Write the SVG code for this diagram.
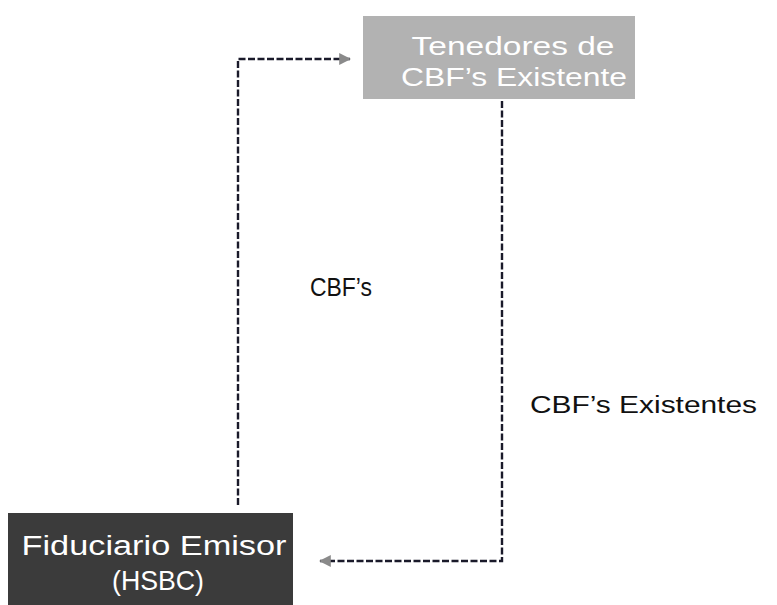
<svg xmlns="http://www.w3.org/2000/svg" width="777" height="605" viewBox="0 0 777 605">
<defs>
<style>
.lbl{font-family:"Liberation Sans",Arial,sans-serif;fill:#111}
.btxt{font-family:"Liberation Sans",Arial,sans-serif;fill:#fff;text-anchor:middle}
.dash{fill:none;stroke:#1a1a2a;stroke-width:2.4;stroke-dasharray:7 2.5}
</style>
<marker id="ah" viewBox="0 0 10 10" refX="9" refY="5" markerWidth="5" markerHeight="5" orient="auto" markerUnits="strokeWidth">
<path d="M0,0 L10,5 L0,10 z" fill="#8a8a8a"/>
</marker>
</defs>
<rect width="777" height="605" fill="#fff"/>
<g id="connectors">
<path class="dash" d="M238,505 L238,59 L350,59" marker-end="url(#ah)"/>
<path class="dash" d="M502,101 L502,561 L320,561" marker-end="url(#ah)"/>
</g>
<g id="tenedores">
<rect x="363" y="16" width="272" height="83" fill="#b2b2b2"/>
<text class="btxt" x="513" y="55" font-size="26" textLength="203" lengthAdjust="spacingAndGlyphs">Tenedores de</text>
<text class="btxt" x="514" y="86" font-size="26" textLength="226" lengthAdjust="spacingAndGlyphs">CBF’s Existente</text>
</g>
<g id="fiduciario">
<rect x="8" y="513" width="285" height="92" fill="#3b3b3b"/>
<text class="btxt" x="154" y="555" font-size="27" textLength="265" lengthAdjust="spacingAndGlyphs">Fiduciario Emisor</text>
<text class="btxt" x="158" y="590" font-size="28" textLength="92" lengthAdjust="spacingAndGlyphs">(HSBC)</text>
</g>
<g id="labels">
<text class="lbl" x="310" y="296" font-size="25" textLength="62" lengthAdjust="spacingAndGlyphs">CBF’s</text>
<text class="lbl" x="530" y="413" font-size="23" textLength="227" lengthAdjust="spacingAndGlyphs">CBF’s Existentes</text>
</g>
</svg>
